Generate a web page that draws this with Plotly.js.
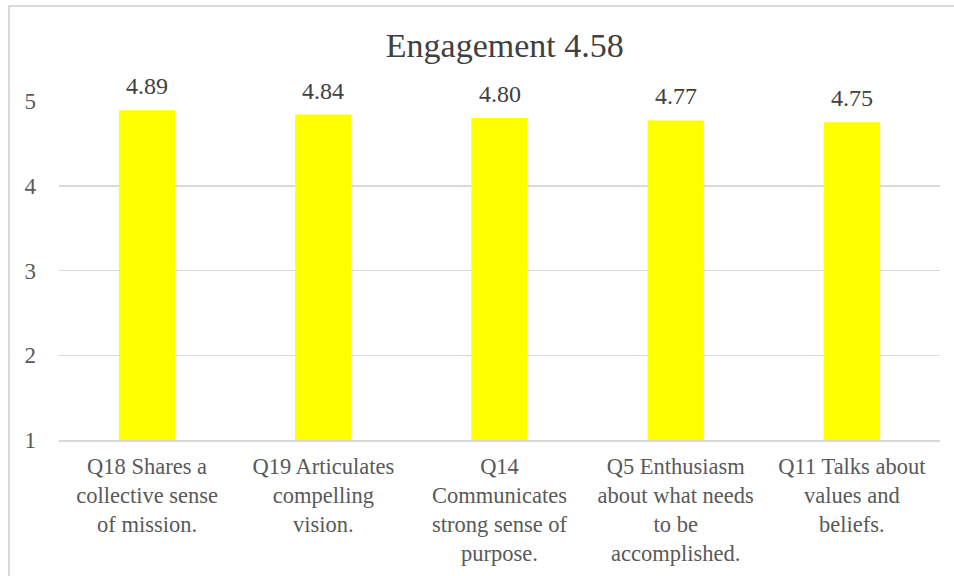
<!DOCTYPE html>
<html>
<head>
<meta charset="utf-8">
<script src="https://cdn.plot.ly/plotly-3.0.1.min.js"></script>
<style>
html,body{margin:0;padding:0;background:#fff;}
#wrap{position:relative;width:954px;height:576px;overflow:hidden;}
#chart{position:absolute;left:0;top:0;width:954px;height:576px;}
#frame{position:absolute;left:8px;top:5px;width:960px;height:600px;border-left:2px solid #d9d9d9;border-top:2px solid #d9d9d9;pointer-events:none;}
</style>
</head>
<body>
<div id="wrap"><div id="chart"></div><div id="frame"></div></div>
<script>
const chartTitle = "Engagement 4.58";
const categories = [
  "Q18 Shares a<br>collective sense<br>of mission.",
  "Q19 Articulates<br>compelling<br>vision.",
  "Q14<br>Communicates<br>strong sense of<br>purpose.",
  "Q5 Enthusiasm<br>about what needs<br>to be<br>accomplished.",
  "Q11 Talks about<br>values and<br>beliefs."
];
const scores = [4.89, 4.84, 4.80, 4.77, 4.75];
const labels = ["4.89", "4.84", "4.80", "4.77", "4.75"];
const yTicks = [1, 2, 3, 4, 5];

const serif = "Liberation Serif, Times New Roman, serif";

const trace = {
  type: "bar",
  x: categories,
  y: scores,
  marker: {color: "#FFFF00"},
  hoverinfo: "none"
};

const annotations = categories.map((c, i) => ({
  x: c, y: scores[i], xref: "x", yref: "y",
  text: labels[i], showarrow: false,
  yanchor: "bottom", yshift: 9,
  font: {family: serif, size: 24, color: "#404040"}
}));

const layout = {
  width: 954, height: 576,
  margin: {l: 59, r: 14, t: 101, b: 136, pad: 0},
  paper_bgcolor: "#ffffff",
  plot_bgcolor: "#ffffff",
  showlegend: false,
  bargap: 0.68,
  font: {family: serif},
  title: {
    text: chartTitle,
    x: 0.506, xref: "paper", xanchor: "center",
    y: 0.921, yanchor: "middle", yref: "container",
    font: {family: serif, size: 34, color: "#404040"}
  },
  xaxis: {
    type: "category",
    showgrid: false,
    showline: true, linecolor: "#d9d9d9", linewidth: 1.5,
    ticks: "", tickangle: 0, ticklabelstandoff: 5,
    tickfont: {family: serif, size: 22.5, color: "#595959"},
    automargin: false
  },
  yaxis: {
    range: [1, 5],
    tickvals: yTicks,
    ticktext: yTicks.map(String),
    showgrid: true, gridcolor: "#d9d9d9", gridwidth: 1.5,
    zeroline: false, showline: false,
    ticks: "", ticklabelstandoff: 22,
    tickfont: {family: serif, size: 23, color: "#595959"},
    automargin: false
  },
  annotations: annotations
};

Plotly.newPlot("chart", [trace], layout, {displayModeBar: false, staticPlot: true});
</script>
</body>
</html>
